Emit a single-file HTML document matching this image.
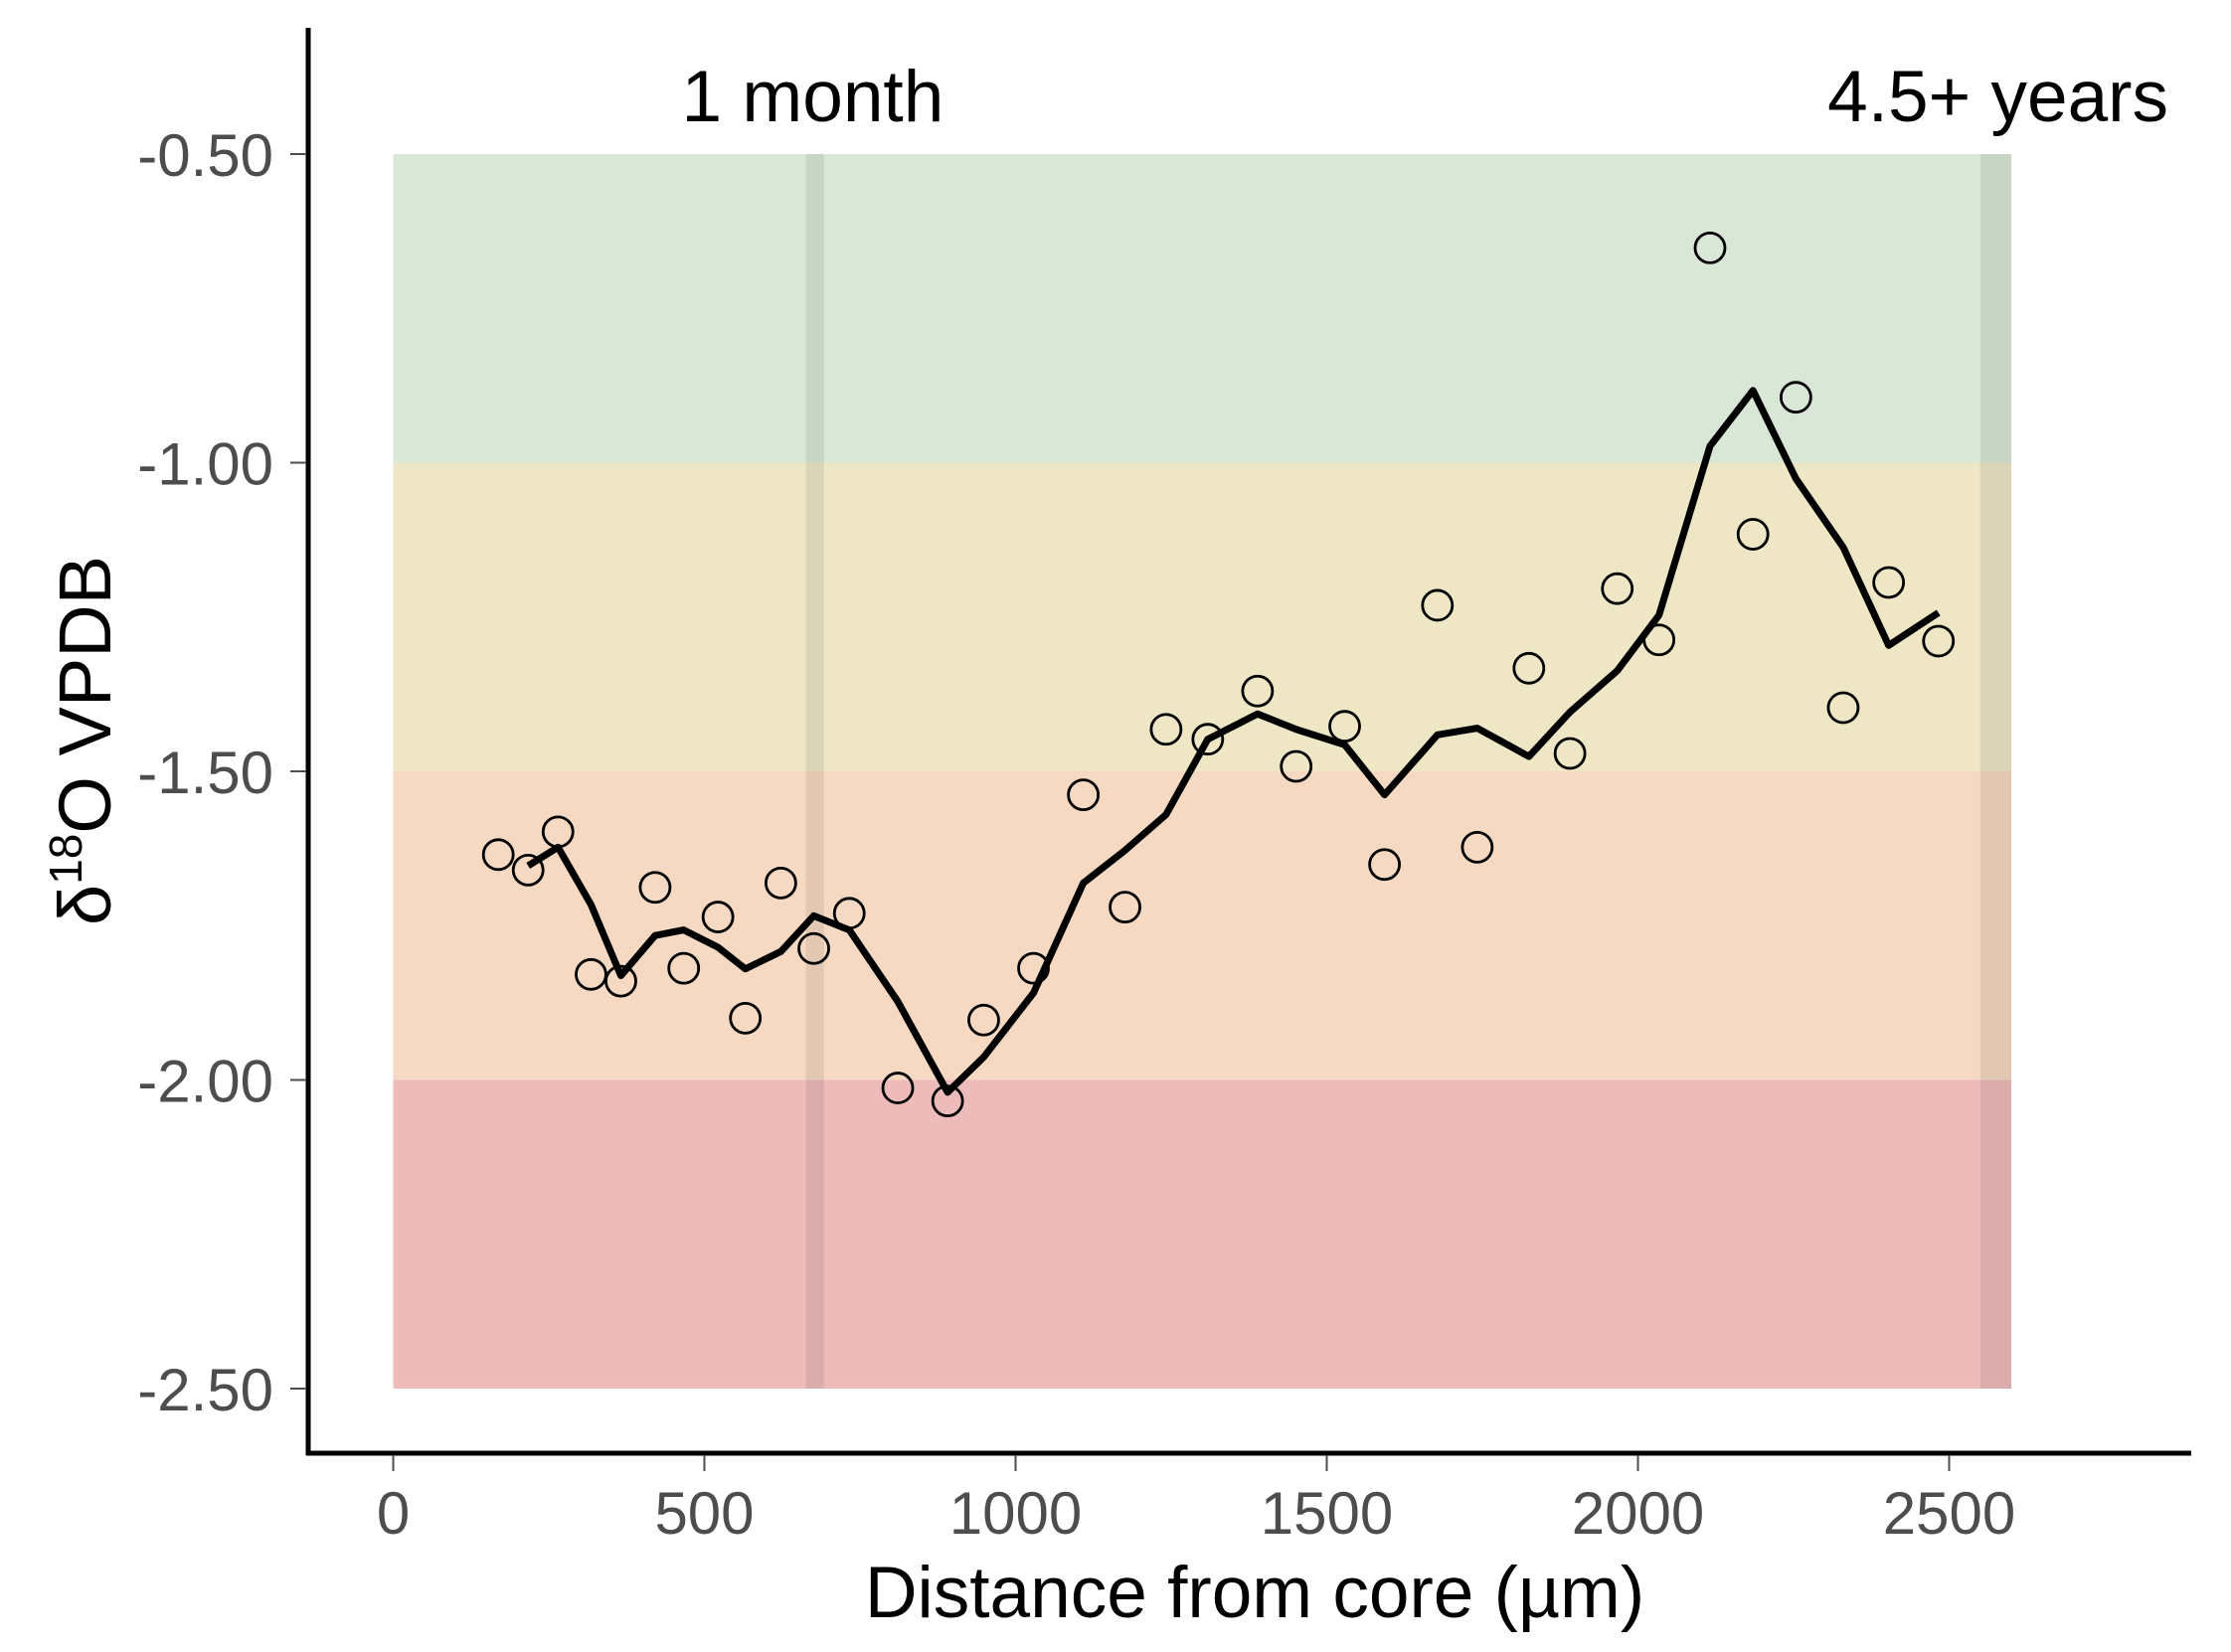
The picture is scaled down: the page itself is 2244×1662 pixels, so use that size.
<!DOCTYPE html>
<html><head><meta charset="utf-8"><style>
html,body{margin:0;padding:0;background:#fff;}
svg{display:block;font-family:"Liberation Sans",Arial,sans-serif;}
</style></head><body>
<svg id="chart" width="2244" height="1662" viewBox="0 0 2244 1662" xmlns="http://www.w3.org/2000/svg">
<g id="bands"></g>
<g id="marks"></g>
<g id="series"></g>
<g id="axes"></g>
</svg>
<script>
const bandLows = [-1.0, -1.5, -2.0, -2.5];
const bandHighs = [-0.5, -1.0, -1.5, -2.0];
const bandColors = ['#d9e8d6', '#efe6c6', '#f6d9c2', '#eebbbb'];
const markStarts = [663, 2550];
const markEnds = [692, 2600];
const markLabels = ['1 month', '4.5+ years'];
const pointX = [172,220,268,321,369,424,470,525,569,626,679,736,814,894,952,1032,1112,1179,1245,1312,1392,1454,1532,1596,1681,1745,1828,1894,1970,2037,2119,2188,2257,2333,2406,2486];
const pointY = [-1.635,-1.66,-1.598,-1.829,-1.84,-1.688,-1.819,-1.736,-1.9,-1.681,-1.787,-1.73,-2.013,-2.034,-1.903,-1.819,-1.538,-1.72,-1.432,-1.448,-1.37,-1.492,-1.427,-1.651,-1.231,-1.623,-1.333,-1.471,-1.204,-1.287,-0.652,-1.116,-0.894,-1.397,-1.194,-1.289];
const lineX = [220,268,321,369,424,470,525,569,626,679,736,814,894,952,1032,1112,1179,1245,1312,1392,1454,1532,1596,1681,1745,1828,1894,1970,2037,2119,2188,2257,2333,2406,2486];
const lineY = [-1.653,-1.623,-1.716,-1.831,-1.766,-1.757,-1.785,-1.82,-1.792,-1.734,-1.757,-1.873,-2.02,-1.963,-1.859,-1.681,-1.628,-1.57,-1.448,-1.407,-1.432,-1.457,-1.538,-1.441,-1.43,-1.476,-1.404,-1.337,-1.247,-0.973,-0.883,-1.026,-1.137,-1.296,-1.243];
const xTicks = [0, 500, 1000, 1500, 2000, 2500];
const yTicks = [-0.5, -1.0, -1.5, -2.0, -2.5];
const yTickLabels = ['-0.50', '-1.00', '-1.50', '-2.00', '-2.50'];

const NS = 'http://www.w3.org/2000/svg';
function sx(v){ return 395.5 + v * 0.626; }
function sy(v){ return 155 + (-0.5 - v) * 621; }
function mk(tag, attrs, parent, text){
  const e = document.createElementNS(NS, tag);
  for (const k in attrs) e.setAttribute(k, attrs[k]);
  if (text !== undefined) e.textContent = text;
  parent.appendChild(e); return e;
}
const bands = document.getElementById('bands');
bandLows.forEach((lo, i) => {
  const r = mk('rect', {x: sx(0), y: sy(bandHighs[i]), width: sx(2600) - sx(0), height: sy(lo) - sy(bandHighs[i]), fill: bandColors[i]}, bands);
  
  
});
const marks = document.getElementById('marks');
markStarts.forEach((s, i) => {
  const r = mk('rect', {x: sx(s), y: sy(-0.5), width: sx(markEnds[i]) - sx(s), height: sy(-2.5) - sy(-0.5), fill: 'rgba(0,0,0,0.08)'}, marks);
  
  
});
const t1 = mk('text', {x: sx(674), y: 122, 'font-size': 73, 'text-anchor': 'middle', fill: '#000'}, marks, markLabels[0]);


const t2 = mk('text', {x: 2181, y: 122, 'font-size': 73, 'text-anchor': 'end', fill: '#000'}, marks, markLabels[1]);



const series = document.getElementById('series');
const pl = mk('polyline', {points: lineX.map((x, i) => (sx(x) - 2) + ',' + sy(lineY[i])).join(' '), fill: 'none', stroke: '#000', 'stroke-width': 7, 'stroke-linejoin': 'round'}, series);


pointX.forEach((x, i) => {
  const c = mk('circle', {cx: sx(x) - 2, cy: sy(pointY[i]), r: 15, fill: 'none', stroke: '#000', 'stroke-width': 2.8}, series);
  
  
});

const axes = document.getElementById('axes');
const ya = mk('line', {x1: 310, y1: 28, x2: 310, y2: 1464, stroke: '#000', 'stroke-width': 5}, axes);


const xa = mk('line', {x1: 308, y1: 1462, x2: 2204, y2: 1462, stroke: '#000', 'stroke-width': 5}, axes);


yTicks.forEach((v, i) => {
  const tk = mk('line', {x1: 292, y1: sy(v), x2: 308, y2: sy(v), stroke: '#4d4d4d', 'stroke-width': 2}, axes);
  
  
  const tl = mk('text', {x: 275, y: sy(v) + 22, 'font-size': 60, 'text-anchor': 'end', fill: '#4d4d4d'}, axes, yTickLabels[i]);
  
  
});
xTicks.forEach(v => {
  const tk = mk('line', {x1: sx(v), y1: 1464, x2: sx(v), y2: 1480, stroke: '#4d4d4d', 'stroke-width': 2}, axes);
  
  
  const tl = mk('text', {x: sx(v), y: 1543, 'font-size': 60, 'text-anchor': 'middle', fill: '#4d4d4d'}, axes, String(v));
  
  
});
const xt = mk('text', {x: 1262, y: 1627, 'font-size': 73, 'text-anchor': 'middle', fill: '#000'}, axes, 'Distance from core (µm)');


const yt = mk('text', {x: 0, y: 0, 'font-size': 74, 'text-anchor': 'middle', fill: '#000', transform: 'translate(111,745) rotate(-90)'}, axes);


mk('tspan', {}, yt, 'δ');
mk('tspan', {'font-size': 46, dy: -29}, yt, '18');
mk('tspan', {dy: 29}, yt, 'O VPDB');
</script>
</body></html>
